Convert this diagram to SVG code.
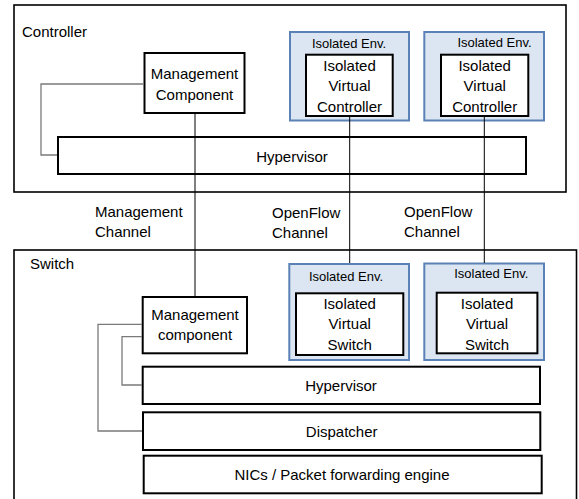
<svg xmlns="http://www.w3.org/2000/svg" width="579" height="499" viewBox="0 0 579 499">
  <style>
    text { font-family: "Liberation Sans", Arial, sans-serif; fill: #000; }
    .lbl { font-size: 15px; }
    .mid { text-anchor: middle; }
    .env-lbl { font-size: 13px; text-anchor: middle; }
    .frame { fill: #fff; stroke: #000; stroke-width: 1.6; }
    .box { fill: #fff; stroke: #000; stroke-width: 2; }
    .env { fill: #dce6f2; stroke: #5b82b6; stroke-width: 2; }
    .link { fill: none; stroke: #000; stroke-width: 1; }
    .tie { fill: none; stroke: #7a7a7a; stroke-width: 1.3; }
  </style>
  <rect width="579" height="499" fill="#fff"/>

  <!-- Controller host -->
  <g id="controller">
    <rect class="frame" x="14" y="5" width="552" height="187"/>
    <text class="lbl" x="22" y="37">Controller</text>
  </g>

  <!-- Switch host (runs off the bottom edge) -->
  <g id="switch">
    <rect class="frame" x="14" y="250" width="562.5" height="260"/>
    <text class="lbl" x="30" y="269">Switch</text>
  </g>

  <!-- Controller contents -->
  <g id="ctrl-mgmt">
    <rect class="box" x="144.5" y="53" width="100" height="60"/>
    <text class="lbl mid" x="194.5" y="79">Management</text>
    <text class="lbl mid" x="194.5" y="100">Component</text>
  </g>
  <g id="ctrl-hypervisor">
    <rect class="box" x="58" y="137" width="468" height="37"/>
    <text class="lbl mid" x="292" y="161.5">Hypervisor</text>
  </g>
  <g id="ctrl-env-1">
    <rect class="env" x="290" y="32" width="119" height="88.5"/>
    <text class="env-lbl" x="349" y="48.3">Isolated Env.</text>
    <rect class="box" x="306" y="54.7" width="86.7" height="61.3"/>
    <text class="lbl mid" x="349.5" y="70.7">Isolated</text>
    <text class="lbl mid" x="349.5" y="91">Virtual</text>
    <text class="lbl mid" x="349.5" y="111.7">Controller</text>
  </g>
  <g id="ctrl-env-2">
    <rect class="env" x="424.3" y="32" width="119.7" height="88.5"/>
    <text class="env-lbl" x="494.5" y="46.7">Isolated Env.</text>
    <rect class="box" x="441" y="54.7" width="87.3" height="61.3"/>
    <text class="lbl mid" x="484.7" y="70.7">Isolated</text>
    <text class="lbl mid" x="484.7" y="91">Virtual</text>
    <text class="lbl mid" x="484.7" y="111.7">Controller</text>
  </g>

  <!-- Channel labels -->
  <g id="channel-labels">
    <text class="lbl" x="95" y="217">Management</text>
    <text class="lbl" x="95" y="237">Channel</text>
    <text class="lbl" x="272" y="218">OpenFlow</text>
    <text class="lbl" x="272" y="238">Channel</text>
    <text class="lbl" x="404" y="217">OpenFlow</text>
    <text class="lbl" x="404" y="237">Channel</text>
  </g>

  <!-- Switch contents -->
  <g id="sw-mgmt">
    <rect class="box" x="142.7" y="297" width="104.3" height="56.3"/>
    <text class="lbl mid" x="195" y="320">Management</text>
    <text class="lbl mid" x="195" y="340">component</text>
  </g>
  <g id="sw-env-1">
    <rect class="env" x="289.3" y="264" width="119.7" height="96"/>
    <text class="env-lbl" x="346" y="280.7">Isolated Env.</text>
    <rect class="box" x="296" y="293.3" width="107.3" height="61.7"/>
    <text class="lbl mid" x="349.7" y="309.3">Isolated</text>
    <text class="lbl mid" x="349.7" y="329.3">Virtual</text>
    <text class="lbl mid" x="349.7" y="350">Switch</text>
  </g>
  <g id="sw-env-2">
    <rect class="env" x="424.3" y="263.5" width="119.7" height="96.5"/>
    <text class="env-lbl" x="491.3" y="278.3">Isolated Env.</text>
    <rect class="box" x="436.7" y="292.7" width="100.7" height="60.6"/>
    <text class="lbl mid" x="487" y="309.3">Isolated</text>
    <text class="lbl mid" x="487" y="329.3">Virtual</text>
    <text class="lbl mid" x="487" y="350">Switch</text>
  </g>
  <g id="sw-hypervisor">
    <rect class="box" x="142.7" y="366.7" width="397.3" height="37.3"/>
    <text class="lbl mid" x="341" y="391">Hypervisor</text>
  </g>
  <g id="sw-dispatcher">
    <rect class="box" x="143" y="412.3" width="397.3" height="37.7"/>
    <text class="lbl mid" x="341.7" y="436.7">Dispatcher</text>
  </g>
  <g id="sw-nics">
    <rect class="box" x="143.7" y="455.7" width="398" height="37.6"/>
    <text class="lbl mid" x="342" y="480">NICs / Packet forwarding engine</text>
  </g>

  <!-- Connectors: channels pass straight over the controller hypervisor -->
  <g id="connectors">
    <line class="link" x1="195" y1="114" x2="195" y2="296"/>
    <line class="link" x1="349.7" y1="117" x2="349.7" y2="263"/>
    <line class="link" x1="484.3" y1="117" x2="484.3" y2="263"/>
    <polyline class="tie" points="144,84 41,84 41,155 57,155"/>
    <polyline class="tie" points="142,324.3 98,324.3 98,431 142,431"/>
    <polyline class="tie" points="142,336.7 122,336.7 122,385 142,385"/>
  </g>
</svg>
